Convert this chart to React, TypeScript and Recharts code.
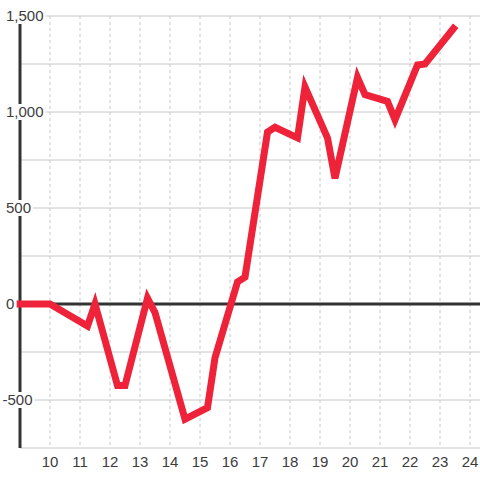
import { CartesianGrid, Line, LineChart, ReferenceLine, XAxis, YAxis } from "recharts";

const xs = [9, 10, 11.25, 11.5, 12.25, 12.5, 13.25, 13.5, 14.5, 15.25, 15.5, 16.25, 16.5, 17.25, 17.5, 18.25, 18.5, 19.25, 19.5, 20.25, 20.5, 21.25, 21.5, 22.25, 22.5, 23.45];
const ys = [0, 0, -115, 0, -425, -425, 30, -45, -600, -540, -280, 115, 140, 895, 920, 865, 1130, 865, 655, 1180, 1090, 1055, 960, 1245, 1250, 1435];

const xTicks = [10, 11, 12, 13, 14, 15, 16, 17, 18, 19, 20, 21, 22, 23, 24];
const yTicks = [-750, -500, -250, 0, 250, 500, 750, 1000, 1250, 1500];
const yLabels = [-500, 0, 500, 1000, 1500];

const data = xs.map((x, i) => ({ x, v: ys[i] }));

const FONT = "'Liberation Sans', Arial, sans-serif";
const fmt = (v: number) => v.toLocaleString("en-US");

// rough Liberation Sans advance widths at 15px
const textWidth = (s: string) =>
  s.split("").reduce((w, c) => w + (c === "," ? 4.17 : c === "-" ? 5 : 8.34), 0);

function YTick(props: any) {
  const { y, payload } = props;
  const v = payload.value as number;
  if (!yLabels.includes(v)) return <g />;
  const label = fmt(v);
  const x0 = v < 0 ? 2.5 : 6;
  const w = textWidth(label);
  return (
    <g>
      <rect x={x0 - 2} y={y - 8} width={w + 4} height={16} fill="#fff" />
      <text x={x0} y={y} dy="0.35em" textAnchor="start" fill="#3c3c3c" fontSize={15} fontFamily={FONT}>
        {label}
      </text>
    </g>
  );
}

// vertical grid only at the integer x ticks, placed through the axis scale
const xGrid = ({ xAxis }: any) => {
  const s = xAxis?.scale;
  if (typeof s === "function") return xTicks.map((t) => s(t));
  if (s && typeof s.map === "function") return xTicks.map((t) => s.map(t));
  return [];
};

export default function App() {
  return (
    <div style={{ position: "absolute", left: 0, top: 0, background: "#fff" }}>
      <LineChart width={480} height={480} data={data} margin={{ top: 16, right: 0, bottom: 0, left: 0 }}>
        <CartesianGrid
          horizontal={false}
          stroke="#c8c8c8"
          strokeDasharray="3 3"
          verticalCoordinatesGenerator={xGrid}
        />
        <CartesianGrid vertical={false} stroke="#c8c8c8" />
        <XAxis
          dataKey="x"
          type="number"
          domain={[9, 24.3333]}
          ticks={xTicks}
          axisLine={false}
          tickLine={false}
          height={32}
          tick={{ fill: "#3c3c3c", fontSize: 15, fontFamily: FONT }}
          interval={0}
        />
        <YAxis
          type="number"
          domain={[-750, 1500]}
          ticks={yTicks}
          width={20}
          axisLine={{ stroke: "#333", strokeWidth: 3 }}
          tickLine={false}
          tick={<YTick />}
          interval={0}
        />
        <ReferenceLine y={0} stroke="#333" strokeWidth={3} />
        <Line
          type="linear"
          dataKey="v"
          stroke="#ee2238"
          strokeWidth={7}
          strokeLinecap="square"
          dot={false}
          activeDot={false}
          isAnimationActive={false}
          zIndex={600}
        />
      </LineChart>
    </div>
  );
}
